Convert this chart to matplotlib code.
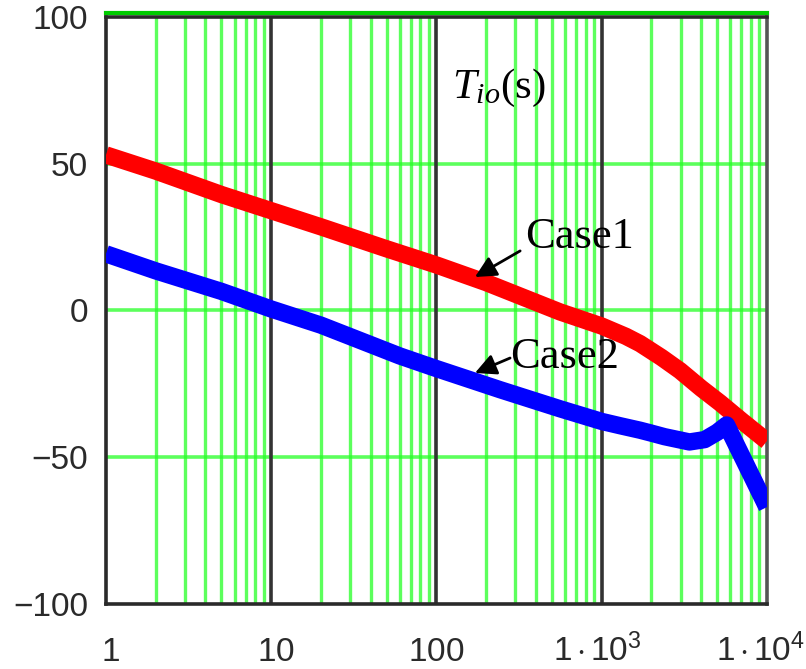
import numpy as np
import matplotlib
matplotlib.use("Agg")
import matplotlib.pyplot as plt
from matplotlib import transforms

# Frequency response data (log-spaced frequency)
freq_case1 = [1, 2, 5, 10, 20, 50, 100, 200, 560, 1000, 1400, 1708, 2300, 2980, 4000, 5210, 7000, 10000]
tio_case1 = [53, 47.5, 39.5, 34, 28.5, 21, 15.5, 9.5, -0.5, -5.3, -8.8, -11.3, -16, -20.5, -26.5, -31.5, -37.5, -44.5]

freq_case2 = [1, 2, 5, 10, 20, 60, 100, 243, 560, 1000, 1300, 1708, 2000, 2400, 3400, 4200, 5000, 5700, 10000]
tio_case2 = [19.3, 13.5, 6.5, 0.5, -5, -15.5, -19.8, -27, -33.5, -37.8, -39.3, -40.8, -41.8, -43, -44.8, -44, -41.5, -39, -67]

yticks = [-100, -50, 0, 50, 100]
ytick_labels = ["\u2212100", "\u221250", "0", "50", "100"]
xticks = [1, 10, 100, 1000, 10000]
xtick_labels = [r"$\mathrm{1}$", r"$\mathrm{10}$", r"$\mathrm{100}$",
                r"$\mathrm{1\cdot10^{3}}$", r"$\mathrm{1\cdot10^{4}}$"]

plt.rcParams["mathtext.fontset"] = "custom"
plt.rcParams["mathtext.rm"] = "Liberation Sans"
plt.rcParams["mathtext.it"] = "Liberation Serif:italic"
plt.rcParams["mathtext.bf"] = "Liberation Sans:bold"

fig = plt.figure(figsize=(8.06, 6.69), dpi=100)
ax = fig.add_axes([0.1315, 0.0972, 0.820, 0.8774])
ax.set_xscale("log")
ax.set_xlim(1, 10000)
ax.set_ylim(-100, 100)

green = (0.15, 1.0, 0.15)
# minor vertical grid
for dec in [1, 10, 100, 1000]:
    for m in range(2, 10):
        ax.axvline(dec * m, color=green, lw=2.4, alpha=0.75, zorder=1)
# major vertical grid
for v in [10, 100, 1000]:
    ax.axvline(v, color="#333333", lw=2.6, zorder=1.5)
# horizontal grid
for h in [-50, 0, 50]:
    ax.axhline(h, color=green, lw=2.6, alpha=0.75, zorder=1)
# green line along the top edge
off = transforms.offset_copy(ax.transData, fig=fig, x=0, y=4, units="dots")
ax.plot([1, 10000], [100, 100], color=(0.0, 0.8, 0.0), lw=3, transform=off,
        clip_on=False, zorder=5)

ax.plot(freq_case1, tio_case1, color="#ff0000", lw=12.5, solid_capstyle="butt",
        solid_joinstyle="round", zorder=3)
ax.plot(freq_case2, tio_case2, color="#0000ff", lw=12.5, solid_capstyle="butt",
        solid_joinstyle="round", zorder=3)

for s in ax.spines.values():
    s.set_linewidth(2.6)
    s.set_color("#2a2a2a")
ax.spines["right"].set_color("#555555")

ax.set_yticks(yticks)
ax.set_yticklabels(ytick_labels)
ax.set_xticks(xticks)
ax.set_xticklabels(xtick_labels)
ax.xaxis.set_minor_locator(matplotlib.ticker.NullLocator())
ax.tick_params(axis="both", length=0, labelsize=24, colors="#2a2a2a")
ax.tick_params(axis="y", pad=13)
ax.tick_params(axis="x", pad=41)
for lab in ax.get_yticklabels():
    lab.set_fontfamily("Liberation Sans")
x_shift_px = [4, 5, 0, -4, -6]
for lab, dx in zip(ax.get_xticklabels(), x_shift_px):
    lab.set_verticalalignment("baseline")
    lab.set_transform(lab.get_transform() +
                      transforms.ScaledTranslation(dx / 100, 0, fig.dpi_scale_trans))

serif = "Liberation Serif"
ax.text(124, 72.5, r"$T_{io}$(s)", fontsize=31, family=serif,
        va="baseline", ha="left", zorder=6)
ax.text(344, 21.3, "Case1", fontsize=32, family=serif, va="baseline", ha="left", zorder=6)
ax.text(279, -19.6, "Case2", fontsize=32, family=serif, va="baseline", ha="left", zorder=6)

arrow = dict(arrowstyle="-|>", lw=2, color="black", mutation_scale=32,
             shrinkA=0, shrinkB=0)
ax.annotate("", xy=(171, 11.4), xytext=(321, 20.3), arrowprops=arrow, zorder=6)
ax.annotate("", xy=(171, -21.3), xytext=(279, -16.2), arrowprops=arrow, zorder=6)

fig.savefig("out.png", dpi=100)
